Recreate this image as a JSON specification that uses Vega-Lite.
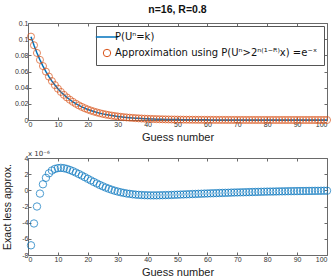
{
  "$schema": "https://vega.github.io/schema/vega-lite/v6.json",
  "padding": {"top": 4, "left": 2, "right": 2, "bottom": 2},
  "spacing": 8,
  "config": {
    "font": "Liberation Sans",
    "view": {"stroke": null},
    "axis": {"domainColor": "#6a6a6a", "tickColor": "#6a6a6a", "labelColor": "#333", "titleColor": "#222", "labelFontSize": 7, "titleFontSize": 11, "titleFontWeight": "normal", "grid": false, "tickSize": -3, "labelPadding": 3, "titlePadding": 4}
  },
  "datasets": {
    "rows": [
      {"k":1,"p":0.10311,"d":-6.8},{"k":2,"p":0.09247,"d":-4.1},{"k":3,"p":0.08294,"d":-2.0},{"k":4,"p":0.07439,"d":-0.4},{"k":5,"p":0.06672,"d":0.75},
      {"k":6,"p":0.05984,"d":1.55},{"k":7,"p":0.05367,"d":2.1},{"k":8,"p":0.04813,"d":2.45},{"k":9,"p":0.04317,"d":2.65},{"k":10,"p":0.03872,"d":2.75},
      {"k":11,"p":0.03473,"d":2.78},{"k":12,"p":0.03115,"d":2.74},{"k":13,"p":0.02794,"d":2.65},{"k":14,"p":0.02506,"d":2.52},{"k":15,"p":0.02247,"d":2.37},
      {"k":16,"p":0.02015,"d":2.2},{"k":17,"p":0.01808,"d":2.02},{"k":18,"p":0.01621,"d":1.83},{"k":19,"p":0.01454,"d":1.63},{"k":20,"p":0.01304,"d":1.43},
      {"k":21,"p":0.0117,"d":1.23},{"k":22,"p":0.01049,"d":1.04},{"k":23,"p":0.00941,"d":0.85},{"k":24,"p":0.00844,"d":0.67},{"k":25,"p":0.00757,"d":0.5},
      {"k":26,"p":0.00679,"d":0.34},{"k":27,"p":0.00609,"d":0.2},{"k":28,"p":0.00546,"d":0.07},{"k":29,"p":0.0049,"d":-0.05},{"k":30,"p":0.00439,"d":-0.15},
      {"k":31,"p":0.003941,"d":-0.24},{"k":32,"p":0.003535,"d":-0.32},{"k":33,"p":0.00317,"d":-0.39},{"k":34,"p":0.002843,"d":-0.44},{"k":35,"p":0.00255,"d":-0.49},
      {"k":36,"p":0.002287,"d":-0.53},{"k":37,"p":0.002051,"d":-0.56},{"k":38,"p":0.00184,"d":-0.58},{"k":39,"p":0.00165,"d":-0.6},{"k":40,"p":0.00148,"d":-0.61},
      {"k":41,"p":0.001327,"d":-0.62},{"k":42,"p":0.00119,"d":-0.62},{"k":43,"p":0.001068,"d":-0.62},{"k":44,"p":0.000958,"d":-0.61},{"k":45,"p":0.000859,"d":-0.6},
      {"k":46,"p":0.00077,"d":-0.59},{"k":47,"p":0.000691,"d":-0.58},{"k":48,"p":0.00062,"d":-0.57},{"k":49,"p":0.000556,"d":-0.55},{"k":50,"p":0.000498,"d":-0.54},
      {"k":51,"p":0.000447,"d":-0.52},{"k":52,"p":0.000401,"d":-0.51},{"k":53,"p":0.00036,"d":-0.49},{"k":54,"p":0.000323,"d":-0.48},{"k":55,"p":0.000289,"d":-0.46},
      {"k":56,"p":0.00026,"d":-0.45},{"k":57,"p":0.000233,"d":-0.43},{"k":58,"p":0.000209,"d":-0.42},{"k":59,"p":0.000187,"d":-0.4},{"k":60,"p":0.000168,"d":-0.39},
      {"k":61,"p":0.000151,"d":-0.37},{"k":62,"p":0.000135,"d":-0.36},{"k":63,"p":0.000121,"d":-0.35},{"k":64,"p":0.000109,"d":-0.33},{"k":65,"p":0.0000975,"d":-0.32},
      {"k":66,"p":0.0000874,"d":-0.31},{"k":67,"p":0.0000784,"d":-0.3},{"k":68,"p":0.0000703,"d":-0.28},{"k":69,"p":0.0000631,"d":-0.27},{"k":70,"p":0.0000566,"d":-0.26},
      {"k":71,"p":0.0000507,"d":-0.25},{"k":72,"p":0.0000455,"d":-0.24},{"k":73,"p":0.0000408,"d":-0.23},{"k":74,"p":0.0000366,"d":-0.22},{"k":75,"p":0.0000328,"d":-0.21},
      {"k":76,"p":0.0000295,"d":-0.2},{"k":77,"p":0.0000264,"d":-0.19},{"k":78,"p":0.0000237,"d":-0.18},{"k":79,"p":0.0000213,"d":-0.17},{"k":80,"p":0.0000191,"d":-0.16},
      {"k":81,"p":0.0000171,"d":-0.155},{"k":82,"p":0.0000153,"d":-0.15},{"k":83,"p":0.0000138,"d":-0.14},{"k":84,"p":0.0000123,"d":-0.13},{"k":85,"p":0.0000111,"d":-0.125},
      {"k":86,"p":0.0000099,"d":-0.12},{"k":87,"p":0.0000089,"d":-0.11},{"k":88,"p":0.000008,"d":-0.105},{"k":89,"p":0.0000072,"d":-0.1},{"k":90,"p":0.0000064,"d":-0.095},
      {"k":91,"p":0.0000058,"d":-0.09},{"k":92,"p":0.0000052,"d":-0.085},{"k":93,"p":0.0000046,"d":-0.08},{"k":94,"p":0.0000042,"d":-0.075},{"k":95,"p":0.0000037,"d":-0.07},
      {"k":96,"p":0.0000033,"d":-0.065},{"k":97,"p":0.000003,"d":-0.06},{"k":98,"p":0.0000027,"d":-0.055},{"k":99,"p":0.0000024,"d":-0.05},{"k":100,"p":0.0000022,"d":-0.05}
    ]
  },
  "vconcat": [
    {
      "title": {"text": "n=16, R=0.8", "fontSize": 10.5, "fontWeight": "bold", "offset": 4, "anchor": "middle", "color": "#111"},
      "width": 299,
      "height": 97,
      "data": {"name": "rows"},
      "layer": [
        {
          "mark": {"type": "line", "strokeWidth": 1.5},
          "encoding": {
            "x": {"field": "k", "type": "quantitative", "scale": {"domain": [0, 100], "nice": false}, "axis": {"values": [0,10,20,30,40,50,60,70,80,90,100], "title": "Guess number"}},
            "y": {"field": "p", "type": "quantitative", "scale": {"domain": [0, 0.12], "nice": false}, "axis": {"values": [0,0.02,0.04,0.06,0.08,0.1,0.12], "format": "~g", "title": null}},
            "color": {
              "datum": "P(Uⁿ=k)",
              "scale": {"domain": ["P(Uⁿ=k)", "Approximation using P(Uⁿ>2ⁿ⁽¹⁻ᴿ⁾x) =e⁻ˣ"], "range": ["#0072BD", "#D95319"]},
              "legend": {
                "title": null, "orient": "top-right", "offset": 3, "strokeColor": "#555", "fillColor": "white", "padding": 6, "cornerRadius": 0,
                "labelFont": "DejaVu Sans", "labelFontSize": 10, "labelColor": "#111", "labelLimit": 400, "rowPadding": 5, "labelOffset": 3,
                "symbolSize": 500, "symbolType": "stroke",
                "encode": {"symbols": {"update": {
                  "shape": {"signal": "datum.index === 0 ? 'stroke' : 'circle'"},
                  "size": {"signal": "datum.index === 0 ? 500 : 55"},
                  "strokeWidth": {"signal": "datum.index === 0 ? 1.5 : 1"},
                  "fill": {"value": "transparent"}
                }}}
              }
            }
          }
        },
        {
          "mark": {"type": "point", "shape": "circle", "filled": false, "size": 50, "strokeWidth": 1},
          "encoding": {
            "x": {"field": "k", "type": "quantitative", "axis": {"orient": "top", "labels": false, "title": null, "values": [0,10,20,30,40,50,60,70,80,90,100]}},
            "y": {"field": "p", "type": "quantitative", "axis": {"orient": "right", "labels": false, "title": null, "values": [0,0.02,0.04,0.06,0.08,0.1,0.12]}},
            "color": {"datum": "Approximation using P(Uⁿ>2ⁿ⁽¹⁻ᴿ⁾x) =e⁻ˣ"}
          }
        }
      ],
      "resolve": {"axis": {"x": "independent", "y": "independent"}}
    },
    {
      "width": 299,
      "height": 97,
      "layer": [
        {
          "data": {"name": "rows"},
          "mark": {"type": "point", "shape": "circle", "filled": false, "size": 55, "strokeWidth": 1, "color": "#0072BD"},
          "encoding": {
            "x": {"field": "k", "type": "quantitative", "scale": {"domain": [0, 100], "nice": false}, "axis": {"values": [0,10,20,30,40,50,60,70,80,90,100], "title": "Guess number"}},
            "y": {"field": "d", "type": "quantitative", "scale": {"domain": [-8, 4], "nice": false}, "axis": {"values": [-8,-6,-4,-2,0,2,4], "labelExpr": "'' + datum.value", "title": "Exact less approx.", "titleFontSize": 10.5, "titlePadding": 9}}
          }
        },
        {
          "data": {"values": [{}]},
          "mark": {"type": "text", "align": "left", "baseline": "bottom", "dy": -1, "fontSize": 7, "font": "DejaVu Sans", "color": "#333"},
          "encoding": {
            "x": {"datum": 0, "type": "quantitative", "axis": {"orient": "top", "labels": false, "title": null, "values": [0,10,20,30,40,50,60,70,80,90,100]}},
            "y": {"datum": 4, "type": "quantitative", "axis": {"orient": "right", "labels": false, "title": null, "values": [-8,-6,-4,-2,0,2,4]}},
            "text": {"value": "x 10⁻⁶"}
          }
        }
      ],
      "resolve": {"axis": {"x": "independent", "y": "independent"}}
    }
  ]
}
